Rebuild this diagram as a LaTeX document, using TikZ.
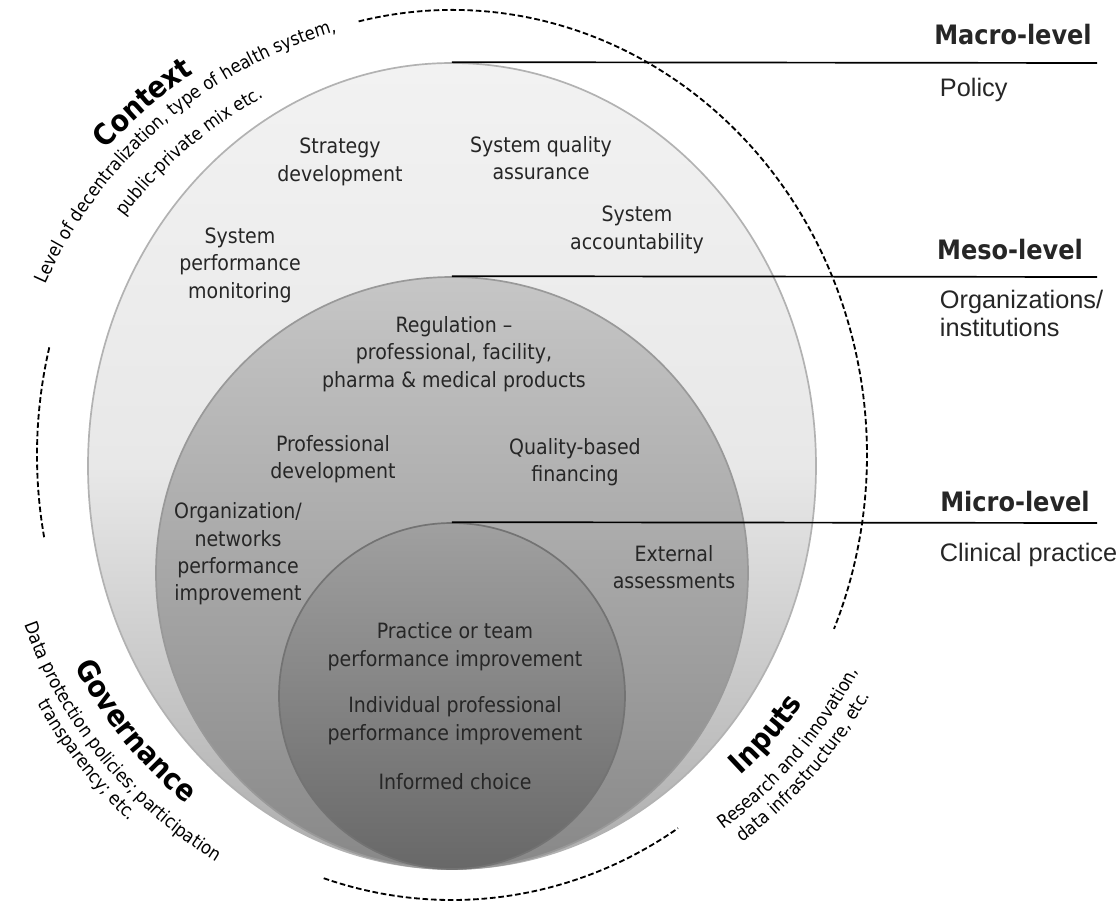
\documentclass[tikz,border=0pt]{standalone}
\usepackage{fontspec}
\setmainfont{DejaVu Sans Condensed}
\newfontfamily\arialfont{Liberation Sans}
\usetikzlibrary{shapes.geometric,decorations.text}

\definecolor{lighttop}{HTML}{F2F2F2}
\definecolor{lightmid}{HTML}{E8E8E8}
\definecolor{lightlow}{HTML}{ACACAC}
\definecolor{midtop}{HTML}{C6C6C6}
\definecolor{midlow}{HTML}{888888}
\definecolor{innertop}{HTML}{A0A0A0}
\definecolor{innerlow}{HTML}{686868}

\newcommand{\labelsize}{\fontsize{15}{19.5}\selectfont}
\newcommand{\curvesize}{\fontsize{13}{15}\selectfont}
\newcommand{\curvebold}{\fontsize{21}{25}\selectfont\bfseries}
\newcommand{\headfont}{\fontsize{19}{23}\selectfont\bfseries}
\newcommand{\sidefont}{\arialfont\fontsize{18}{19.5}\selectfont}

\tikzset{
	arctext/.style 2 args={decorate, decoration={text along path, text align=center, text={|#1|#2}}},
}

\begin{document}
\begin{tikzpicture}
	[every node/.style={align=center, font=\labelsize, text=black!85},
	ring/.style={draw=black!30, line width=1.2pt},
	levelline/.style={line width=1.2pt},
	dashring/.style={line width=1.3pt, dash pattern=on 4pt off 2pt}]
	\path[use as bounding box, fill=white] (-11.3,-11.275) rectangle (16.6,11.375);
	
	% nested circles
	\node[ellipse, ring, minimum width=18.2cm, minimum height=20.15cm, top color=lighttop, bottom color=lightlow, middle color=lightmid] (light) at (0,-0.275) {};
	\node[circle, ring, draw=black!40, minimum size=14.8cm, top color=midtop, bottom color=midlow] (mid) at (0,-2.95) {};
	\node[circle, ring, draw=black!55, minimum size=8.65cm, top color=innertop, bottom color=innerlow] (inner) at (0,-6.025) {};
	
	% dashed outline
	\draw[dashring] (103:10.375 and 11.125) arc[start angle=103, end angle=-23, x radius=10.375, y radius=11.125];
	\draw[dashring] (252:10.375 and 11.125) arc[start angle=252, end angle=303, x radius=10.375, y radius=11.125];
	\draw[dashring] (166:10.375 and 11.125) arc[start angle=166, end angle=191, x radius=10.375, y radius=11.125];
	
	% levels
	\coordinate (macroend) at (16.125,9.8);
	\coordinate (mesoend) at (16.125,4.45);
	\coordinate (microend) at (16.125,-1.7);
	\draw[levelline] (light.north) -- (macroend);
	\draw[levelline] (mid.north) -- (mesoend);
	\draw[levelline] (inner.north) -- (microend);
	
	\node[font=\headfont] (macro) at (14.025,10.5) {Macro-level};
	\node[font=\sidefont, anchor=west] (policy) at (12.075,9.125) {Policy};
	\node[font=\headfont] (meso) at (13.95,5.125) {Meso-level};
	\node[font=\sidefont, anchor=west, align=left] (orgs) at (12.075,3.54) {Organizations/\\institutions};
	\node[font=\headfont] (micro) at (14.075,-1.175) {Micro-level};
	\node[font=\sidefont, anchor=west] (clinic) at (12.075,-2.5) {Clinical practice};
	
	% macro ring
	\node (strategy) at (-2.8,7.325) {Strategy\\development};
	\node (sysqual) at (2.225,7.425) {System quality\\assurance};
	\node (sysacc) at (4.625,5.625) {System\\accountability};
	\node (sysperf) at (-5.3,4.75) {System\\performance\\monitoring};
	
	% meso ring
	\node (regul) at (0.05,2.525) {Regulation --\\professional, facility,\\pharma \& medical products};
	\node (profdev) at (-2.975,-0.1) {Professional\\development};
	\node (qualfin) at (3.075,-0.175) {Quality-based\\financing};
	\node (orgperf) at (-5.35,-2.475) {Organization/\\networks\\performance\\improvement};
	\node (extass) at (5.55,-2.8) {External\\assessments};
	
	% micro ring
	\node (teamperf) at (0.075,-4.79) {Practice or team\\performance improvement};
	\node (indperf) at (0.075,-6.64) {Individual professional\\performance improvement};
	\node (choice) at (0.075,-8.175) {Informed choice};
	
	% curved texts
	\coordinate (tc) at (0.2,-0.325);
	\path[arctext={\curvebold}{Context}] ([shift={(tc)}]160:11.9) arc[start angle=160, end angle=102, radius=11.9];
	\path[arctext={\curvesize}{Level of decentralization, type of health system,}] ([shift={(tc)}]176:11.33) arc[start angle=176, end angle=86, radius=11.33];
	\path[arctext={\curvesize}{public-private mix etc.}] ([shift={(tc)}]160.5:10.48) arc[start angle=160.5, end angle=100.5, radius=10.48];
	
	\path[arctext={\curvebold}{Governance}] ([shift={(tc)}]189:10.83) arc[start angle=189, end angle=249, radius=10.83];
	\path[arctext={\curvesize}{Data protection policies; participation}] ([shift={(tc)}]184:11.58) arc[start angle=184, end angle=254, radius=11.58];
	\path[arctext={\curvesize}{transparency; etc.}] ([shift={(tc)}]193:12.1) arc[start angle=193, end angle=243, radius=12.1];
	
	\path[arctext={\curvebold}{Inputs}] ([shift={(tc)}]-66:10.4) arc[start angle=-66, end angle=-16, radius=10.4];
	\path[arctext={\curvesize}{Research and innovation,}] ([shift={(tc)}]-75.5:11.18) arc[start angle=-75.5, end angle=-5.5, radius=11.18];
	\path[arctext={\curvesize}{data infrastructure, etc.}] ([shift={(tc)}]-76:11.73) arc[start angle=-76, end angle=-6, radius=11.73];
\end{tikzpicture}
\end{document}
